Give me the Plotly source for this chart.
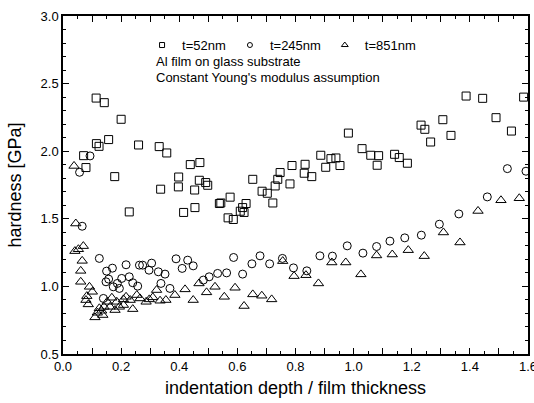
import plotly.graph_objects as go

# t = 52 nm (squares)
x52 = [0.114, 0.142, 0.200, 0.115, 0.124, 0.157, 0.071, 0.079, 0.178, 0.260, 0.331, 0.357,
       0.228, 0.336, 0.398, 0.397, 0.438, 0.471, 0.453, 0.469, 0.491, 0.498, 0.415, 0.454,
       0.538, 0.543, 0.575, 0.568, 0.586, 0.610, 0.623, 0.630, 0.618, 0.653, 0.685, 0.703,
       0.722, 0.730, 0.739, 0.747, 0.781, 0.788, 0.833, 0.830, 0.856, 0.887, 0.904, 0.922,
       0.939, 0.953, 0.982, 1.029, 1.059, 1.086, 1.081, 1.141, 1.157, 1.185, 1.232, 1.245,
       1.265, 1.307, 1.335, 1.387, 1.444, 1.490, 1.543, 1.585]
h52 = [2.393, 2.359, 2.236, 2.056, 2.036, 2.086, 1.967, 1.879, 1.812, 2.046, 2.034, 1.987,
       1.551, 1.719, 1.809, 1.736, 1.901, 1.916, 1.713, 1.785, 1.768, 1.748, 1.547, 1.583,
       1.613, 1.617, 1.660, 1.507, 1.495, 1.556, 1.547, 1.613, 1.583, 1.792, 1.704, 1.689,
       1.617, 1.743, 1.792, 1.842, 1.758, 1.894, 1.903, 1.837, 1.812, 1.970, 1.881, 1.945,
       1.950, 1.894, 2.134, 2.019, 1.970, 1.967, 1.896, 1.977, 1.953, 1.911, 2.193, 2.162,
       2.068, 2.233, 2.117, 2.408, 2.391, 2.248, 2.149, 2.400]

# t = 245 nm (circles)
x245 = [0.093, 0.057, 0.066, 0.125, 0.150, 0.170, 0.148, 0.157, 0.217, 0.263, 0.274, 0.305,
        0.296, 0.328, 0.351, 0.389, 0.410, 0.429, 0.173, 0.187, 0.202, 0.194, 0.228, 0.240,
        0.257, 0.139, 0.337, 0.368, 0.448, 0.483, 0.503, 0.532, 0.563, 0.587, 0.618, 0.650,
        0.678, 0.711, 0.755, 0.793, 0.839, 0.884, 0.927, 0.978, 1.032, 1.079, 1.125, 1.176,
        1.233, 1.295, 1.362, 1.460, 1.529, 1.593]
h245 = [1.965, 1.844, 1.445, 1.207, 1.113, 1.135, 1.034, 1.054, 1.160, 1.157, 1.157, 1.172,
        1.120, 1.108, 1.091, 1.204, 1.133, 1.194, 0.997, 1.022, 1.059, 0.985, 1.071, 1.027,
        1.002, 0.911, 1.022, 0.985, 1.152, 1.047, 1.071, 1.096, 1.100, 1.214, 1.091, 1.167,
        1.226, 1.167, 1.207, 1.137, 1.115, 1.226, 1.224, 1.300, 1.246, 1.295, 1.335, 1.359,
        1.379, 1.460, 1.536, 1.662, 1.871, 1.852]

# t = 851 nm (triangles)
x851 = [0.038, 0.044, 0.041, 0.053, 0.070, 0.066, 0.061, 0.061, 0.091, 0.101, 0.082, 0.079,
        0.087, 0.125, 0.110, 0.118, 0.133, 0.141, 0.137, 0.152, 0.162, 0.168, 0.179, 0.185,
        0.194, 0.208, 0.217, 0.208, 0.231, 0.240, 0.254, 0.265, 0.286, 0.297, 0.309, 0.322,
        0.334, 0.354, 0.385, 0.420, 0.448, 0.468, 0.494, 0.523, 0.555, 0.592, 0.623, 0.653,
        0.684, 0.718, 0.756, 0.795, 0.836, 0.879, 0.925, 0.973, 1.025, 1.079, 1.133, 1.188,
        1.243, 1.309, 1.366, 1.428, 1.507, 1.570]
h851 = [1.891, 1.465, 1.261, 1.275, 1.298, 1.189, 1.115, 1.034, 0.997, 0.960, 0.928, 0.899,
        0.867, 0.838, 0.771, 0.805, 0.820, 0.849, 0.788, 0.886, 0.849, 0.916, 0.825, 0.886,
        0.849, 0.904, 0.923, 0.862, 0.899, 0.832, 0.936, 0.911, 0.886, 0.904, 0.919, 0.973,
        0.894, 0.899, 0.936, 0.978, 0.899, 1.022, 0.956, 0.997, 0.923, 0.990, 0.855, 0.941,
        0.931, 0.904, 1.187, 1.076, 1.083, 1.022, 1.177, 1.177, 1.089, 1.229, 1.236, 1.268,
        1.224, 1.399, 1.325, 1.558, 1.637, 1.652]

series_names = ["t=52nm", "t=245nm", "t=851nm"]
x_tickvals = [0.0, 0.1, 0.2, 0.3, 0.4, 0.5, 0.6, 0.7, 0.8, 0.9, 1.0, 1.1, 1.2, 1.3, 1.4, 1.5, 1.6]
x_ticktext = ["0.0", "", "0.2", "", "0.4", "", "0.6", "", "0.8", "", "1.0", "", "1.2", "", "1.4", "", "1.6"]
y_tickvals = [0.5, 1.0, 1.5, 2.0, 2.5, 3.0]
y_ticktext = ["0.5", "1.0", "1.5", "2.0", "2.5", "3.0"]
notes = ["Al film on glass substrate", "Constant Young's modulus assumption"]

FONT = "Liberation Sans, Arial, sans-serif"
fig = go.Figure()

specs = [(x52, h52, "square-open", 8), (x245, h245, "circle-open", 8), (x851, h851, "triangle-up-open", 9)]
legend_ids = ["legend", "legend2", "legend3"]
legend_x = [0.170, 0.359, 0.563]

for (xs, ys, sym, sz), name in zip(specs, series_names):
    fig.add_trace(go.Scatter(x=xs, y=ys, mode="markers", showlegend=False, name=name,
                             marker=dict(symbol=sym, size=sz, color="black",
                                         line=dict(color="black", width=1))))
# legend-only entries with smaller markers, each in its own legend box
for (xs, ys, sym, sz), name, lid in zip(specs, series_names, legend_ids):
    fig.add_trace(go.Scatter(x=[None], y=[None], mode="markers", name=name, legend=lid,
                             marker=dict(symbol=sym, size=sz - 3, color="black",
                                         line=dict(color="black", width=1))))

legend_common = dict(y=0.914, xanchor="left", yanchor="middle", bgcolor="rgba(0,0,0,0)",
                     font=dict(size=13, family=FONT), itemwidth=30, borderwidth=0)

fig.update_layout(
    width=534, height=403,
    margin=dict(l=63, r=6, t=16, b=49),
    paper_bgcolor="white", plot_bgcolor="white",
    font=dict(family=FONT, color="black", size=13),
    legend=dict(x=legend_x[0], **legend_common),
    legend2=dict(x=legend_x[1], **legend_common),
    legend3=dict(x=legend_x[2], **legend_common),
    xaxis=dict(range=[0, 1.6], showgrid=False, zeroline=False, showline=True,
               linecolor="black", linewidth=1.5, mirror="allticks",
               ticks="inside", ticklen=6, tickwidth=1, tickcolor="black",
               tickvals=x_tickvals, ticktext=x_ticktext, ticklabeloverflow="allow",
               tickfont=dict(size=13), automargin=False,
               minor=dict(dtick=0.05, tick0=0, ticks="inside", ticklen=3, tickcolor="black"),
               title=dict(text="indentation depth / film thickness", font=dict(size=18), standoff=8)),
    yaxis=dict(range=[0.5, 3.0], showgrid=False, zeroline=False, showline=True,
               linecolor="black", linewidth=1.5, mirror="allticks",
               ticks="inside", ticklen=6, tickwidth=1, tickcolor="black",
               tickvals=y_tickvals, ticktext=y_ticktext, ticklabeloverflow="allow",
               tickfont=dict(size=13), automargin=False,
               minor=dict(dtick=0.1, tick0=0.5, ticks="inside", ticklen=3, tickcolor="black"),
               title=dict(text="hardness [GPa]", font=dict(size=18), standoff=14)),
)

for i, t in enumerate(notes):
    fig.add_annotation(text=t, xref="paper", yref="paper", x=0.196, y=0.864 - i * 0.047,
                       xanchor="left", yanchor="middle", showarrow=False,
                       font=dict(size=13, family=FONT))

fig.write_html("out.html", config={"displayModeBar": False},
               post_script="document.body.style.margin='0px';")
